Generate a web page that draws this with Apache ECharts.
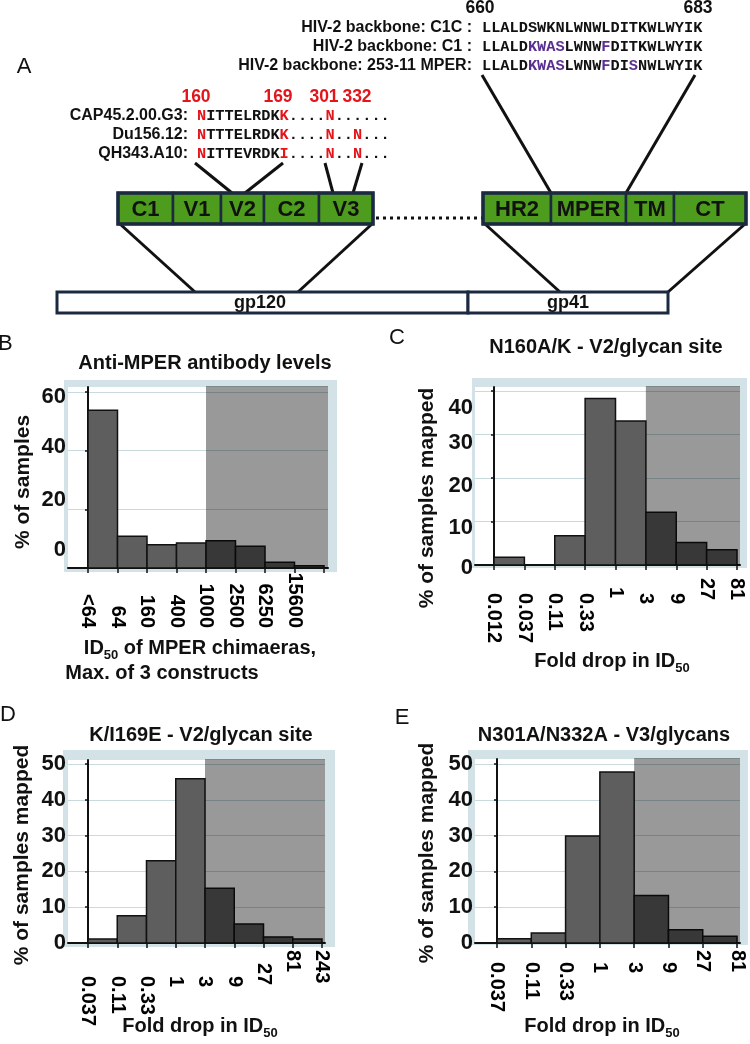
<!DOCTYPE html>
<html><head><meta charset="utf-8">
<script src="https://cdn.jsdelivr.net/npm/echarts@6/dist/echarts.min.js"></script>
<style>html,body{margin:0;padding:0;background:#fff}#c{width:750px;height:1044px}</style>
</head><body><div id="c"></div>
<script>
// ---------------- DATA ----------------
const labelsB = ['<64', '64', '160', '400', '1000', '2500', '6250', '15600'];
const valuesB = [53.8, 10.8, 7.9, 8.5, 9.3, 7.4, 2.0, 0.8];
const yTicksB = [0, 20, 40, 60];
const shadeFromB = 4;

const labelsC = ['0.012', '0.037', '0.11', '0.33', '1', '3', '9', '27', '81'];
const valuesC = [1.8, 0, 6.7, 38.3, 33.1, 12.1, 5.2, 3.5];
const yTicksC = [0, 10, 20, 30, 40];
const shadeFromC = 5;

const labelsD = ['0.037', '0.11', '0.33', '1', '3', '9', '27', '81', '243'];
const valuesD = [1.1, 7.6, 23.0, 45.9, 15.3, 5.3, 1.7, 1.1];
const yTicksD = [0, 10, 20, 30, 40, 50];
const shadeFromD = 4;

const labelsE = ['0.037', '0.11', '0.33', '1', '3', '9', '27', '81'];
const valuesE = [1.2, 2.8, 29.9, 47.8, 13.3, 3.7, 1.9];
const yTicksE = [0, 10, 20, 30, 40, 50];
const shadeFromE = 4;

const titleB = 'Anti-MPER antibody levels';
const titleC = 'N160A/K - V2/glycan site';
const titleD = 'K/I169E - V2/glycan site';
const titleE = 'N301A/N332A - V3/glycans';

// Panel A sequence data
const mperStart = '660', mperEnd = '683';
const mperRows = [
  { label: 'HIV-2 backbone: C1C :', seq: 'LLALDSWKNLWNWLDITKWLWYIK', marks: [] },
  { label: 'HIV-2 backbone: C1 :', seq: 'LLALDKWASLWNWFDITKWLWYIK', marks: [5, 6, 7, 8, 13] },
  { label: 'HIV-2 backbone: 253-11 MPER:', seq: 'LLALDKWASLWNWFDISNWLWYIK', marks: [5, 6, 7, 8, 13, 16] }
];
const siteNumbers = ['160', '169', '301', '332'];
const glyRows = [
  { label: 'CAP45.2.00.G3:', seq: 'NITTELRDKK....N......', marks: [0, 9, 14] },
  { label: 'Du156.12:', seq: 'NTTTELRDKK....N..N...', marks: [0, 9, 14, 17] },
  { label: 'QH343.A10:', seq: 'NITTEVRDKI....N..N...', marks: [0, 9, 14, 17] }
];
const gp120Regions = ['C1', 'V1', 'V2', 'C2', 'V3'];
const gp41Regions = ['HR2', 'MPER', 'TM', 'CT'];

// ---------------- STYLE / LAYOUT ----------------
const FONT = "'Liberation Sans', Arial, Helvetica, sans-serif";
const MONO = "'Liberation Mono', 'Courier New', monospace";
const INK = '#111111';
const NAVY = '#1b2a41';
const GREEN = '#4e9c1e';
const FRAME = '#d3e2e7';
const GRIDC = '#c9dadf';

const panelDefs = [
  { labels: labelsB, values: valuesB, yTicks: yTicksB, shadeFrom: shadeFromB,
    frame: [64, 380, 337, 572], plot: [68, 387, 328, 568], tick0: 88, bw: 29.5, yRef: [60, 392],
    yOff: { 60: 5, 40: -4, 20: -9, 0: -18 },
    xl: { align: 'right', margin: 60, def: 0, pad: {} } },
  { labels: labelsC, values: valuesC, yTicks: yTicksC, shadeFrom: shadeFromC,
    frame: [472, 378, 747, 568], plot: [475, 387, 740, 565], tick0: 494, bw: 30.375, yRef: [40, 391],
    yOff: { 40: 17, 30: 8, 20: 8, 10: 6, 0: 3 },
    xl: { align: 'left', margin: 13, def: 15, pad: { '1': 9, '27': 0, '81': 0 } } },
  { labels: labelsD, values: valuesD, yTicks: yTicksD, shadeFrom: shadeFromD,
    frame: [63, 750, 335, 947], plot: [68, 760, 325, 943], tick0: 88, bw: 29.25, yRef: [50, 764],
    yOff: {},
    xl: { align: 'left', margin: 7, def: 26, pad: { '27': 13, '81': 0, '243': 0 } } },
  { labels: labelsE, values: valuesE, yTicks: yTicksE, shadeFrom: shadeFromE,
    frame: [468, 750, 748, 945], plot: [475, 759, 740, 943], tick0: 497, bw: 34.29, yRef: [50, 764],
    yOff: {},
    xl: { align: 'left', margin: 7, def: 12, pad: { '27': 0, '81': 0 } } }
];

const grids = [], xAxes = [], yAxes = [], series = [], graphics = [];

function barRender(params, api) {
  const i = api.value(0), v = api.value(1);
  if (!v) return null;
  const p0 = api.coord([i, 0]);
  const p1 = api.coord([i + 1, v]);
  return { type: 'rect', shape: { x: p0[0], y: p1[1], width: p1[0] - p0[0], height: p0[1] - p1[1] },
    style: { fill: '#5e5e5e', stroke: INK, lineWidth: 1.5 } };
}
function shadeRender(params, api) {
  const s = api.value(0);
  const p = api.coord([s, 0]);
  const cs = params.coordSys;
  return { type: 'rect', shape: { x: p[0], y: cs.y - 1, width: cs.x + cs.width - p[0], height: p[1] - cs.y + 1 },
    style: { fill: 'rgba(0,0,0,0.4)' } };
}

panelDefs.forEach((p, k) => {
  const [l, t, r, b] = p.plot;
  grids.push({ left: l, top: t, width: r - l, height: b - t, show: false });
  const pxPerUnit = (b - p.yRef[1]) / p.yRef[0];
  const ymax = (b - t) / pxPerUnit;
  const xmin = -(p.tick0 - l) / p.bw, xmax = (r - p.tick0) / p.bw;
  const n = p.values.length;
  const tickVals = Array.from({ length: n + 1 }, (_, i) => i);
  const labelVals = p.labels.map((_, i) => i);

  const xRich = {};
  const padFor = (lab) => (lab in p.xl.pad ? p.xl.pad[lab] : p.xl.def);
  p.labels.forEach((lab) => {
    const pd = padFor(lab);
    xRich['p' + pd] = { fontSize: 20, fontWeight: 700, fontFamily: FONT, color: '#000', padding: [0, 0, 0, pd] };
  });
  const plain = (p.xl.align === 'right');
  xAxes.push({
    type: 'value', gridIndex: k, min: xmin, max: xmax,
    axisLine: { show: true, onZero: false, lineStyle: { color: INK, width: 2 } },
    axisTick: { show: true, length: 5, customValues: tickVals, lineStyle: { color: INK, width: 1.5 } },
    splitLine: { show: false },
    axisLabel: {
      customValues: labelVals, rotate: -90, align: p.xl.align, margin: p.xl.margin,
      fontSize: 20, fontWeight: 700, fontFamily: FONT, color: '#000',
      formatter: plain ? ((v) => p.labels[Math.round(v)])
                       : ((v) => { const lab = p.labels[Math.round(v)]; return '{p' + padFor(lab) + '|' + lab + '}'; }),
      rich: plain ? undefined : xRich
    }
  });

  const yRich = {};
  p.yTicks.forEach((v, i) => {
    const off = p.yOff[v] || 0;
    yRich['o' + i] = { fontSize: 22, fontWeight: 'bold', fontFamily: FONT, color: INK,
      padding: [off > 0 ? 2 * off : 0, 0, off < 0 ? -2 * off : 0, 0] };
  });
  yAxes.push({
    type: 'value', gridIndex: k, min: 0, max: ymax,
    axisLine: { show: true, lineStyle: { color: INK, width: 2 } },
    axisTick: { show: true, length: 3, customValues: p.yTicks, lineStyle: { color: INK, width: 1.5 } },
    splitLine: { show: true, lineStyle: { color: GRIDC, width: 1.2 } },
    axisLabel: {
      customValues: p.yTicks, margin: 2,
      fontSize: 22, fontWeight: 'bold', fontFamily: FONT, color: INK,
      formatter: (v) => '{o' + p.yTicks.indexOf(v) + '|' + v + '}',
      rich: yRich
    }
  });

  series.push({ type: 'custom', xAxisIndex: k, yAxisIndex: k, z: 2, silent: true,
    data: p.values.map((v, i) => [i, v]), renderItem: barRender });
  series.push({ type: 'custom', xAxisIndex: k, yAxisIndex: k, z: 3, silent: true,
    data: [[p.shadeFrom, 0]], renderItem: shadeRender });

  const [fl, ft, fr, fb] = p.frame;
  graphics.push({ type: 'rect', z: -10, silent: true, shape: { x: fl, y: ft, width: fr - fl, height: fb - ft }, style: { fill: FRAME } });
  graphics.push({ type: 'rect', z: -9, silent: true, shape: { x: l, y: t, width: r - l, height: b - t }, style: { fill: '#ffffff' } });
});

// text helper
function txt(x, y, text, size, o) {
  o = o || {};
  return { type: 'text', x: x, y: y, z: 20, silent: true, rotation: o.rot || 0,
    style: { text: text, fontSize: size, fontWeight: o.weight || 'bold', fontFamily: o.family || FONT,
      fill: o.fill || INK, align: o.align || 'center', verticalAlign: 'middle', rich: o.rich } };
}
function line(x1, y1, x2, y2, w, dash) {
  return { type: 'line', z: 15, silent: true, shape: { x1: x1, y1: y1, x2: x2, y2: y2 },
    style: { stroke: INK, lineWidth: w || 3, lineDash: dash || null } };
}
const subRich = {
  a: { fontSize: 20, fontWeight: 'bold', fontFamily: FONT, fill: INK, lineHeight: 20, verticalAlign: 'top' },
  s: { fontSize: 13, fontWeight: 'bold', fontFamily: FONT, fill: INK, lineHeight: 24, verticalAlign: 'bottom' }
};

// panel letters
graphics.push(txt(24, 67, 'A', 22, { weight: 'normal' }));
graphics.push(txt(-2, 344, 'B', 22, { weight: 'normal', align: 'left' }));
graphics.push(txt(397, 338, 'C', 22, { weight: 'normal' }));
graphics.push(txt(0, 715, 'D', 22, { weight: 'normal', align: 'left' }));
graphics.push(txt(402, 718, 'E', 22, { weight: 'normal' }));

// panel titles
graphics.push(txt(205, 363, titleB, 20));
graphics.push(txt(606, 347, titleC, 20));
graphics.push(txt(201, 735, titleD, 20));
graphics.push(txt(604, 735, titleE, 20));

// y-axis titles
const R90 = Math.PI / 2;
graphics.push(txt(23, 482, '% of samples', 21, { rot: R90 }));
graphics.push(txt(427, 498, '% of samples mapped', 21, { rot: R90 }));
graphics.push(txt(22, 855, '% of samples mapped', 21, { rot: R90 }));
graphics.push(txt(427, 853, '% of samples mapped', 21, { rot: R90 }));

// x-axis titles
graphics.push(txt(200, 650, '{a|ID}{s|50}{a| of MPER chimaeras,}', 20, { rich: subRich }));
graphics.push(txt(162, 673, 'Max. of 3 constructs', 20));
graphics.push(txt(612, 663, '{a|Fold drop in ID}{s|50}', 20, { rich: subRich }));
graphics.push(txt(200, 1028, '{a|Fold drop in ID}{s|50}', 20, { rich: subRich }));
graphics.push(txt(602, 1028, '{a|Fold drop in ID}{s|50}', 20, { rich: subRich }));

// ---------------- PANEL A ----------------
function seqRich(seq, marks, markName) {
  let s = '';
  for (let i = 0; i < seq.length; i++) {
    s += '{' + (marks.indexOf(i) >= 0 ? markName : 'n') + '|' + seq[i] + '}';
  }
  return s;
}
const SEQ = 15.3;
const monoRich = {
  n: { fontSize: SEQ, fontWeight: 'bold', fontFamily: MONO, fill: INK },
  r: { fontSize: SEQ, fontWeight: 'bold', fontFamily: MONO, fill: '#e3151b' },
  u: { fontSize: SEQ, fontWeight: 'bold', fontFamily: MONO, fill: '#5a2f91' }
};
graphics.push(txt(480, 8, mperStart, 17.5));
graphics.push(txt(698, 8, mperEnd, 17.5));
const mperY = [28, 47, 66];
mperRows.forEach((row, i) => {
  graphics.push(txt(472, mperY[i], row.label, 16, { align: 'right' }));
  graphics.push(txt(482, mperY[i], seqRich(row.seq, row.marks, 'u'), SEQ, { align: 'left', rich: monoRich, family: MONO }));
});
const siteX = [196, 278, 324, 357];
siteNumbers.forEach((s, i) => graphics.push(txt(siteX[i], 97, s, 17.5, { fill: '#e3151b' })));
const glyY = [116, 135, 154];
glyRows.forEach((row, i) => {
  graphics.push(txt(188, glyY[i], row.label, 16, { align: 'right' }));
  graphics.push(txt(197, glyY[i], seqRich(row.seq, row.marks, 'r'), SEQ, { align: 'left', rich: monoRich, family: MONO }));
});

// connector lines
graphics.push(line(195, 163, 232, 193));
graphics.push(line(283, 163, 245, 193));
graphics.push(line(325, 163, 333, 193));
graphics.push(line(362, 163, 353, 193));
graphics.push(line(482, 75, 551, 193));
graphics.push(line(695, 75, 626, 193));
graphics.push(line(120, 224, 195, 292));
graphics.push(line(372, 224, 298, 292));
graphics.push(line(485, 224, 560, 292));
graphics.push(line(745, 224, 668, 292));
graphics.push(line(376, 218, 483, 218, 3, [3, 4]));

// domain boxes
function boxes(edges, names, y0, y1) {
  for (let i = 0; i < names.length; i++) {
    graphics.push({ type: 'rect', z: 16, silent: true,
      shape: { x: edges[i], y: y0, width: edges[i + 1] - edges[i], height: y1 - y0 },
      style: { fill: GREEN, stroke: NAVY, lineWidth: 2.5 } });
    graphics.push(txt((edges[i] + edges[i + 1]) / 2, (y0 + y1) / 2 + 1, names[i], 22));
  }
  graphics.push({ type: 'rect', z: 17, silent: true,
    shape: { x: edges[0], y: y0, width: edges[edges.length - 1] - edges[0], height: y1 - y0 },
    style: { fill: 'none', stroke: NAVY, lineWidth: 3.5 } });
}
boxes([118, 173, 221, 264, 319, 373], gp120Regions, 193, 224);
boxes([483, 551, 626, 674, 746], gp41Regions, 193, 224);

// gp120 / gp41 bar
graphics.push({ type: 'rect', z: 16, silent: true, shape: { x: 57, y: 292, width: 411, height: 21 },
  style: { fill: '#fff', stroke: NAVY, lineWidth: 3 } });
graphics.push({ type: 'rect', z: 16, silent: true, shape: { x: 468, y: 292, width: 200, height: 21 },
  style: { fill: '#fff', stroke: NAVY, lineWidth: 3 } });
graphics.push(txt(260, 303, 'gp120', 18));
graphics.push(txt(568, 303, 'gp41', 18));

const chart = echarts.init(document.getElementById('c'), null, { renderer: 'canvas' });
chart.setOption({
  animation: false,
  backgroundColor: '#ffffff',
  grid: grids, xAxis: xAxes, yAxis: yAxes, series: series,
  graphic: { elements: graphics }
});
</script></body></html>
